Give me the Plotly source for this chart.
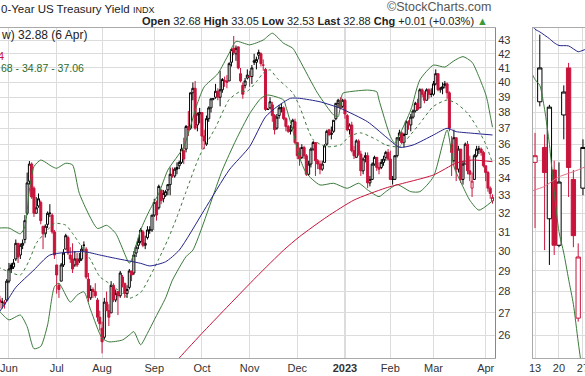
import math
import pandas as pd
import plotly.graph_objects as go

# ---------------- data: $TNX daily candles (yield x10) ----------------
HOLIDAYS = ["2022-05-30", "2022-06-20", "2022-07-04", "2022-09-05", "2022-11-24",
            "2022-12-26", "2023-01-02", "2023-01-16", "2023-02-20"]
dates = [d.strftime("%Y-%m-%d") for d in pd.bdate_range("2022-05-24", "2023-04-06")
         if d.strftime("%Y-%m-%d") not in HOLIDAYS]

opens = [
    28.5, 27.6, 27.5, 27.5, 27.6,
    28.5, 29.3, 29.2, 29.6, 30.4, 29.8, 30.3, 30.6, 32.0, 33.8,
    34.8, 33.4, 32.0, 32.4, 32.6, 31.3, 30.9, 31.4, 32.0, 31.9,
    31.0, 29.3, 28.3, 28.5, 29.3, 30.1, 30.7, 29.8, 29.6, 29.3,
    29.6, 29.5, 29.6, 30.3, 30.1, 28.6, 27.7, 28.1, 28.0, 27.6,
    26.8, 26.3, 25.9, 27.5, 27.1, 27.0, 28.3, 27.6, 28.0, 27.8,
    28.7, 28.4, 27.9, 28.2, 29.0, 28.9, 29.9, 30.3, 30.5, 31.0,
    30.3, 30.7, 31.1, 31.1, 31.9, 32.6, 32.3, 33.3, 32.8, 33.0,
    33.3, 33.6, 34.2, 34.1, 34.6, 34.7, 34.9, 35.6, 35.7, 37.1,
    37.0, 39.3, 39.6, 37.2, 37.9, 38.0, 36.5, 36.0, 37.6, 38.3,
    38.9, 39.0, 39.4, 39.0, 39.5, 40.1, 40.1, 40.1, 41.4, 42.4,
    42.0, 42.5, 40.6, 39.8, 39.8, 40.3, 40.4, 40.4, 41.4, 41.4,
    41.9, 42.0, 41.2, 40.9, 38.2, 38.3, 38.5, 37.8, 37.0, 37.8,
    38.3, 38.3, 37.6, 37.1, 36.8, 37.0, 37.4, 36.1, 35.3, 35.2,
    35.8, 35.3, 34.2, 34.8, 35.7, 36.1, 35.0, 34.8, 34.5, 34.9,
    36.0, 36.9, 36.6, 36.8, 37.6, 38.6, 38.8, 38.4, 38.8, 37.8,
    36.9, 37.2, 35.6, 35.2, 36.2, 35.4, 34.4, 35.2, 35.3, 33.7,
    33.9, 34.8, 35.2, 34.6, 34.6, 34.9, 35.2, 35.5, 35.1, 33.9,
    33.9, 35.3, 36.4, 36.7, 36.1, 36.6, 37.4, 37.2, 37.7, 38.1,
    38.6, 38.3, 39.5, 39.2, 38.8, 39.5, 39.2, 39.2, 39.9, 40.6,
    39.5, 39.6, 39.8, 39.9, 39.3, 36.0, 35.0, 36.4, 34.5, 35.7,
    33.9, 34.8, 36.0, 34.4, 33.4, 33.9, 35.3, 35.7, 35.7, 35.5,
    34.7, 34.3, 33.4, 32.68,
]
highs = [
    28.6, 27.8, 27.7, 27.6, 28.6,
    29.4, 29.4, 29.6, 30.6, 30.4, 30.4, 30.6, 31.9, 34.3, 34.98,
    34.9, 33.5, 32.9, 33.1, 32.7, 31.3, 31.4, 32.1, 32.5, 32.0,
    31.1, 29.3, 28.4, 29.4, 30.1, 30.9, 30.8, 30.2, 30.4, 30.0,
    29.9, 29.9, 30.3, 30.5, 30.2, 28.9, 28.3, 28.2, 28.4, 27.7,
    27.1, 26.6, 27.7, 28.0, 27.4, 28.5, 28.4, 28.1, 28.0, 29.0,
    28.8, 28.4, 28.3, 29.1, 29.0, 30.0, 30.3, 30.7, 31.2, 31.1,
    30.8, 31.3, 31.3, 31.9, 32.8, 32.7, 33.6, 33.3, 33.3, 33.3,
    33.6, 34.6, 34.6, 34.6, 34.9, 35.0, 36.0, 36.4, 37.2, 38.1,
    39.3, 40.0, 40.1, 38.0, 38.3, 38.0, 36.9, 37.8, 38.4, 38.9,
    38.9, 39.9, 39.6, 40.8, 40.3, 40.4, 40.5, 41.4, 42.4, 43.3,
    42.6, 42.5, 41.0, 40.0, 40.3, 40.9, 40.8, 41.2, 42.0, 41.8,
    42.3, 42.1, 41.6, 41.0, 38.3, 39.0, 38.7, 37.9, 37.9, 38.5,
    38.6, 38.4, 37.7, 37.2, 37.2, 37.6, 37.6, 36.1, 35.8, 36.0,
    35.9, 35.4, 35.0, 35.8, 36.2, 36.1, 35.1, 35.0, 35.0, 36.0,
    36.9, 36.9, 37.1, 37.5, 38.6, 38.9, 39.0, 38.9, 38.9, 37.9,
    37.3, 37.4, 35.9, 36.3, 36.3, 35.6, 35.2, 35.5, 35.5, 34.1,
    34.9, 35.3, 35.2, 34.9, 35.1, 35.3, 35.6, 35.7, 35.6, 34.1,
    35.3, 36.4, 36.9, 36.8, 36.7, 37.5, 37.5, 37.9, 38.2, 38.7,
    38.9, 39.6, 39.6, 39.4, 39.6, 39.6, 39.6, 40.1, 40.9, 40.6,
    39.7, 40.0, 40.1, 40.0, 39.4, 36.5, 36.9, 36.4, 35.9, 35.7,
    35.0, 36.1, 36.2, 35.3, 34.3, 35.4, 35.9, 35.9, 35.8, 35.6,
    34.7, 34.4, 33.5, 33.05,
]
lows = [
    27.3, 27.2, 27.2, 27.2, 27.5,
    28.4, 28.9, 29.1, 29.5, 29.4, 29.6, 30.1, 30.4, 31.9, 33.6,
    32.8, 31.8, 32.0, 32.3, 31.4, 30.1, 30.7, 31.2, 31.8, 30.9,
    29.6, 27.9, 27.7, 28.5, 29.2, 30.1, 29.8, 29.4, 28.9, 29.2,
    29.2, 29.4, 29.5, 30.0, 28.6, 27.5, 27.6, 27.7, 27.7, 26.6,
    26.2, 25.2, 25.8, 27.1, 26.4, 27.0, 27.5, 27.5, 26.9, 27.7,
    28.2, 27.7, 27.7, 28.1, 28.5, 28.8, 29.7, 30.1, 30.4, 30.2,
    30.1, 30.6, 30.9, 31.0, 31.8, 31.6, 32.2, 32.5, 32.6, 32.9,
    33.0, 33.0, 34.0, 34.0, 34.2, 34.5, 34.8, 34.8, 35.5, 36.5,
    36.9, 38.8, 36.9, 36.8, 37.3, 35.7, 35.7, 35.9, 37.4, 38.0,
    38.8, 38.9, 38.8, 38.4, 39.3, 39.7, 39.6, 40.1, 41.1, 41.9,
    41.5, 40.9, 40.0, 38.9, 39.6, 40.2, 39.7, 39.9, 41.2, 40.9,
    41.6, 41.1, 40.8, 38.1, 38.2, 38.2, 37.4, 36.6, 36.9, 37.6,
    38.0, 37.5, 36.8, 36.7, 36.6, 36.9, 36.0, 35.1, 34.7, 35.1,
    35.1, 34.1, 34.1, 34.6, 35.6, 34.1, 34.5, 34.2, 34.4, 34.9,
    35.9, 36.5, 36.3, 36.7, 37.5, 38.3, 38.2, 38.3, 37.6, 36.8,
    36.6, 35.5, 35.1, 35.2, 35.3, 34.1, 34.2, 34.9, 33.4, 33.5,
    33.9, 34.7, 34.4, 34.2, 34.5, 34.7, 35.0, 35.0, 33.9, 33.6,
    33.9, 35.2, 36.2, 36.0, 35.8, 36.6, 36.9, 36.8, 37.6, 38.0,
    38.1, 38.3, 39.0, 38.6, 38.8, 38.9, 39.0, 39.1, 39.8, 39.4,
    39.3, 39.2, 39.6, 38.9, 36.8, 34.1, 34.9, 33.8, 34.3, 33.7,
    33.6, 34.8, 34.2, 33.8, 32.9, 33.9, 35.2, 35.4, 35.3, 34.6,
    33.8, 33.2, 32.8, 32.53,
]
closes = [
    27.6, 27.5, 27.5, 27.4, 28.5,
    29.1, 29.1, 29.4, 30.4, 29.7, 30.3, 30.4, 31.6, 33.7, 34.8,
    32.9, 32.0, 32.3, 32.8, 31.6, 30.9, 31.3, 32.0, 32.0, 31.0,
    29.8, 28.8, 28.1, 29.3, 29.9, 30.8, 29.9, 29.6, 29.1, 29.6,
    29.3, 29.6, 30.1, 30.3, 28.7, 27.7, 28.1, 28.0, 27.8, 26.8,
    26.5, 25.7, 27.5, 27.1, 26.8, 28.3, 27.6, 27.9, 27.8, 28.9,
    28.4, 27.9, 28.1, 29.0, 28.8, 29.8, 30.2, 30.5, 31.1, 30.3,
    30.4, 31.1, 31.1, 31.9, 32.6, 31.9, 33.5, 32.7, 33.1, 33.2,
    33.6, 34.2, 34.1, 34.5, 34.5, 34.9, 35.7, 35.1, 37.1, 36.9,
    39.3, 39.6, 37.0, 37.9, 38.0, 36.5, 36.2, 37.6, 38.3, 38.9,
    38.9, 39.4, 39.0, 39.5, 40.2, 40.1, 40.0, 41.3, 42.3, 42.1,
    42.4, 41.0, 40.1, 39.2, 40.1, 40.5, 40.4, 41.0, 41.5, 41.6,
    42.1, 41.3, 41.2, 38.2, 38.2, 38.7, 37.8, 36.9, 37.7, 38.3,
    38.3, 37.6, 37.1, 36.8, 36.9, 37.5, 36.1, 35.3, 35.1, 35.8,
    35.3, 34.2, 34.8, 35.7, 36.1, 35.0, 34.8, 34.5, 34.8, 35.9,
    36.8, 36.6, 36.7, 37.5, 38.6, 38.8, 38.3, 38.8, 37.9, 36.9,
    37.2, 35.6, 35.3, 36.2, 35.4, 34.4, 35.1, 35.3, 33.7, 33.9,
    34.8, 35.2, 34.6, 34.5, 34.9, 35.1, 35.5, 35.1, 33.9, 33.9,
    35.3, 36.4, 36.7, 36.1, 36.6, 37.4, 37.2, 37.7, 38.1, 38.6,
    38.2, 39.5, 39.2, 38.8, 39.5, 39.2, 39.2, 39.9, 40.6, 39.5,
    39.6, 39.7, 39.9, 39.3, 37.0, 35.5, 36.4, 34.5, 35.7, 33.9,
    34.8, 36.0, 34.4, 34.2, 33.8, 35.3, 35.7, 35.7, 35.5, 34.7,
    34.3, 33.4, 33.1, 32.88,
]
assert len(dates) == len(opens) == len(highs) == len(lows) == len(closes), (len(dates), len(opens))

# overlays (key points)
ma50_dates = ["2022-05-24", "2022-06-01", "2022-06-06", "2022-06-16", "2022-06-28", "2022-07-20",
              "2022-07-29", "2022-08-09", "2022-08-24", "2022-08-30", "2022-09-09", "2022-09-19",
              "2022-10-04", "2022-10-19", "2022-11-01", "2022-11-10", "2022-11-17", "2022-11-28",
              "2022-12-02", "2022-12-15", "2022-12-29", "2023-01-18", "2023-01-30", "2023-02-07",
              "2023-02-15", "2023-03-01", "2023-03-09", "2023-03-15", "2023-03-24", "2023-04-06"]
ma50_vals = [26.93, 27.7, 28.2, 29.05, 29.8, 29.97, 29.8, 29.63, 29.38, 29.25, 29.46, 30.05,
             32.17, 34.45, 35.85, 37.72, 38.37, 38.93, 38.93, 38.70, 38.27, 37.40, 36.46, 35.81,
             35.95, 36.57, 36.99, 36.78, 36.68, 36.57]

ma200_dates = ["2022-09-06", "2022-09-19", "2022-10-04", "2022-10-19", "2022-11-04", "2022-11-22",
               "2022-12-02", "2022-12-20", "2023-01-09", "2023-01-30", "2023-03-01", "2023-03-15",
               "2023-03-24", "2023-04-06"]
ma200_vals = [24.0, 25.0, 26.18, 27.37, 28.71, 30.05, 30.75, 31.8, 32.73, 33.41, 34.16, 34.86,
              35.04, 34.94]

bb_up_dates = ["2022-05-24", "2022-06-01", "2022-06-08", "2022-06-10", "2022-06-14", "2022-06-16",
               "2022-06-22", "2022-06-29", "2022-07-01", "2022-07-08", "2022-07-13", "2022-07-18",
               "2022-07-28", "2022-08-03", "2022-08-09", "2022-08-17", "2022-08-18", "2022-08-24",
               "2022-08-30", "2022-09-06", "2022-09-12", "2022-09-21", "2022-09-29", "2022-10-04",
               "2022-10-12", "2022-10-19", "2022-10-24", "2022-11-01", "2022-11-09", "2022-11-15",
               "2022-11-22", "2022-11-29", "2022-12-02", "2022-12-14", "2022-12-23", "2022-12-28",
               "2022-12-30", "2023-01-05", "2023-01-18", "2023-01-24", "2023-01-25", "2023-02-01",
               "2023-02-03", "2023-02-07", "2023-02-14", "2023-02-21", "2023-03-01", "2023-03-08",
               "2023-03-14", "2023-03-20", "2023-03-24", "2023-03-29", "2023-04-03", "2023-04-04",
               "2023-04-05", "2023-04-06"]
bb_up_vals = [31.2, 31.2, 30.9, 31.27, 33.3, 34.65, 35.04, 34.65, 34.55, 34.85, 34.75, 33.1,
              31.18, 31.35, 30.92, 29.39, 29.55, 31.1, 32.18, 33.1, 34.45, 35.85, 38.6, 39.7,
              40.6, 42.05, 42.9, 42.65, 43.0, 43.5, 42.76, 42.4, 41.56, 39.26, 37.84, 37.73,
              39.26, 39.37, 39.48, 39.37, 38.82, 36.48, 36.05, 36.57, 38.16, 40.17, 41.2, 41.06,
              41.5, 41.8, 41.4, 40.4, 39.2, 38.6, 37.8, 37.06]

bb_mid_dates = ["2022-05-24", "2022-06-01", "2022-06-08", "2022-06-14", "2022-06-17", "2022-06-27",
                "2022-06-30", "2022-07-08", "2022-07-13", "2022-07-18", "2022-07-25", "2022-07-29",
                "2022-08-04", "2022-08-12", "2022-08-17", "2022-08-24", "2022-08-30", "2022-09-06",
                "2022-09-12", "2022-09-16", "2022-09-22", "2022-09-30", "2022-10-11", "2022-10-19",
                "2022-10-26", "2022-10-31", "2022-11-04", "2022-11-09", "2022-11-14", "2022-11-17",
                "2022-11-23", "2022-11-29", "2022-12-02", "2022-12-12", "2022-12-20", "2022-12-29",
                "2023-01-05", "2023-01-12", "2023-01-24", "2023-01-30", "2023-02-07", "2023-02-14",
                "2023-02-21", "2023-03-01", "2023-03-09", "2023-03-15", "2023-03-22", "2023-03-28",
                "2023-04-03", "2023-04-06"]
bb_mid_vals = [29.2, 28.96, 28.8, 29.55, 30.4, 31.1, 31.45, 31.36, 30.92, 30.4, 29.55, 28.72,
               28.4, 27.91, 27.68, 27.95, 28.7, 29.6, 30.6, 31.8, 33.2, 35.3, 37.04, 38.85,
               39.4, 39.4, 40.05, 40.64, 40.87, 40.3, 39.74, 39.3, 38.4, 36.27, 35.85, 35.95,
               36.49, 36.7, 36.27, 35.95, 35.85, 36.6, 37.3, 38.4, 38.82, 38.6, 37.96, 37.1,
               36.0, 34.87]

bb_lo_dates = ["2022-05-24", "2022-05-25", "2022-06-01", "2022-06-08", "2022-06-13", "2022-06-16",
               "2022-06-22", "2022-06-27", "2022-06-30", "2022-07-05", "2022-07-12", "2022-07-15",
               "2022-07-20", "2022-07-25", "2022-08-01", "2022-08-04", "2022-08-12", "2022-08-17",
               "2022-08-19", "2022-08-24", "2022-08-29", "2022-09-01", "2022-09-09", "2022-09-14",
               "2022-09-22", "2022-09-27", "2022-10-14", "2022-10-24", "2022-11-01", "2022-11-08",
               "2022-11-11", "2022-11-22", "2022-11-23", "2022-11-29", "2022-12-02", "2022-12-07",
               "2022-12-15", "2022-12-23", "2023-01-04", "2023-01-11", "2023-01-18", "2023-01-25",
               "2023-01-30", "2023-02-06", "2023-02-14", "2023-02-21", "2023-03-01", "2023-03-09",
               "2023-03-14", "2023-03-20", "2023-03-23", "2023-03-29", "2023-04-06"]
bb_lo_vals = [27.2, 27.05, 26.68, 26.9, 26.37, 25.4, 25.5, 26.45, 28.23, 28.4, 27.5, 27.83,
              27.99, 27.13, 25.86, 25.7, 25.78, 26.0, 26.15, 25.57, 26.08, 26.68, 27.7, 28.55,
              29.72, 30.05, 34.45, 36.26, 37.92, 38.93, 39.15, 38.82, 38.38, 36.88, 35.2, 34.26,
              33.58, 33.68, 33.39, 33.68, 33.3, 32.92, 33.2, 33.6, 33.2, 33.2, 34.06, 36.88,
              34.65, 33.48, 32.72, 32.17, 32.68]

for ds in (ma50_dates, ma200_dates, bb_up_dates, bb_mid_dates, bb_lo_dates):
    assert all(d in dates for d in ds), [d for d in ds if d not in dates]

month_ticks = ["2022-06-01", "2022-07-01", "2022-08-01", "2022-09-01", "2022-10-03", "2022-11-01",
               "2022-12-01", "2023-01-03", "2023-02-01", "2023-03-01", "2023-04-03"]
month_labels = ["Jun", "Jul", "Aug", "Sep", "Oct", "Nov", "Dec", "<b>2023</b>", "Feb", "Mar", "Apr"]
y_ticks = list(range(26, 44))

# right-hand inset (recent sessions), values read against the same grid
panel_cats = ["Mar 10", "Mar 13", "Mar 14", "Mar 15", "Mar 16", "Mar 17", "Mar 20", "Mar 21",
              "Mar 22", "Mar 23", "Mar 24", "Mar 27", "Mar 28"]
panel_days = ["Mar 13", "Mar 14", "Mar 15", "Mar 16", "Mar 17", "Mar 20", "Mar 21", "Mar 22",
              "Mar 23", "Mar 24", "Mar 27"]
panel_open = [34.9, 38.7, 35.8, 31.7, 34.45, 30.3, 37.84, 41.0, 33.9, 26.76, 33.4]
panel_high = [36.7, 43.4, 36.6, 38.5, 35.0, 34.9, 39.8, 41.35, 34.45, 30.4, 36.3]
panel_low = [31.2, 38.4, 30.05, 29.3, 29.8, 30.2, 36.3, 32.9, 30.2, 26.6, 33.0]
panel_close = [35.3, 41.0, 34.3, 38.35, 30.3, 33.75, 39.35, 34.6, 30.8, 29.7, 35.8]
panel_blue_x = ["Mar 10", "Mar 13", "Mar 14", "Mar 16", "Mar 17", "Mar 20", "Mar 22", "Mar 24",
                "Mar 27", "Mar 28"]
panel_blue_v = [44.3, 43.8, 43.6, 43.1, 42.8, 42.6, 42.57, 42.15, 42.25, 42.4]
panel_green_x = ["Mar 10", "Mar 13", "Mar 14", "Mar 15", "Mar 16", "Mar 17", "Mar 20", "Mar 21",
                 "Mar 22", "Mar 23", "Mar 24", "Mar 27"]
panel_green_v = [40.9, 40.2, 39.8, 38.2, 36.0, 33.2, 31.0, 29.9, 28.6, 27.4, 25.7, 24.2]
panel_pink_x = ["Mar 10", "Mar 13", "Mar 15", "Mar 20", "Mar 23", "Mar 28"]
panel_pink_v = [33.2, 33.3, 33.5, 34.05, 34.35, 34.7]

# ---------------- styling ----------------
FONT = "Liberation Sans, Arial, sans-serif"
BLACK = "#000000"
RED = "#c8143c"
GREEN = "#3b7a3b"
NAVY = "#23238a"
GRID = "#dcdcdc"
W, H = 585, 376
TOP, BOT = 28, 358

fig = go.Figure()


def add_candles(x, o, h, l, c, xa, ya, first_down=False):
    up, dn = [], []
    for k in range(len(c)):
        down = (c[k] < c[k - 1]) if k > 0 else first_down
        (dn if down else up).append(k)
    for idx, col, inc_fill, dec_fill in ((up, BLACK, "white", BLACK), (dn, RED, "white", RED)):
        fig.add_trace(go.Candlestick(
            x=[x[k] for k in idx], open=[o[k] for k in idx], high=[h[k] for k in idx],
            low=[l[k] for k in idx], close=[c[k] for k in idx],
            increasing=dict(line=dict(color=col, width=1), fillcolor=inc_fill),
            decreasing=dict(line=dict(color=col, width=1), fillcolor=dec_fill),
            whiskerwidth=0, showlegend=False, hoverinfo="skip", xaxis=xa, yaxis=ya))


def add_line(x, y, color, xa="x", ya="y", dash="solid", width=1):
    fig.add_trace(go.Scatter(x=x, y=y, mode="lines", xaxis=xa, yaxis=ya, hoverinfo="skip",
                             line=dict(color=color, width=width, dash=dash, shape="spline",
                                       smoothing=0.6),
                             showlegend=False))


add_candles(dates, opens, highs, lows, closes, "x", "y")
add_line(bb_up_dates, bb_up_vals, GREEN)
add_line(bb_lo_dates, bb_lo_vals, GREEN)
add_line(bb_mid_dates, bb_mid_vals, GREEN, dash="dot")
add_line(ma50_dates, ma50_vals, NAVY)
add_line(ma200_dates, ma200_vals, RED)

add_candles(panel_days, panel_open, panel_high, panel_low, panel_close, "x2", "y2", first_down=True)
add_line(panel_blue_x, panel_blue_v, NAVY, "x2", "y2")
add_line(panel_green_x, panel_green_v, GREEN, "x2", "y2")
add_line(panel_pink_x, panel_pink_v, "#e0708a", "x2", "y2")

yr = [math.log10(25.0), math.log10(43.89)]
first_cat = 5 - 3.96
fig.update_layout(
    width=W, height=H, margin=dict(l=0, r=0, t=TOP, b=H - BOT),
    paper_bgcolor="white", plot_bgcolor="white",
    font=dict(family=FONT, size=11, color="#222"),
    showlegend=False, boxgap=0.1, boxgroupgap=0,
    xaxis=dict(domain=[0, 495 / W], type="category", categoryorder="array", categoryarray=dates,
               range=[first_cat, first_cat + 218.06], tickvals=month_ticks, ticktext=month_labels,
               showgrid=True, gridcolor=GRID, showline=True, mirror=True, linecolor="#aaaaaa",
               ticks="", ticklen=0, automargin=False, rangeslider=dict(visible=False),
               tickfont=dict(size=11, color="#333")),
    yaxis=dict(domain=[0, 1], type="log", range=yr, side="right", anchor="x",
               tickvals=y_ticks, ticktext=[str(v) for v in y_ticks], showgrid=True,
               gridcolor=GRID, showline=True, linecolor="#888888", ticks="", ticklen=0,
               automargin=False, zeroline=False, tickfont=dict(size=11, color="#333")),
    xaxis2=dict(domain=[533 / W, 1], anchor="y2", type="category", categoryorder="array",
                categoryarray=panel_cats, range=[0.583, 11.42],
                tickvals=["Mar 13", "Mar 20", "Mar 27"], ticktext=["13", "20", "27"],
                showgrid=True, gridcolor=GRID, showline=True, mirror=True, linecolor="#aaaaaa",
                ticks="", ticklen=0, automargin=False, rangeslider=dict(visible=False),
                tickfont=dict(size=11, color="#333")),
    yaxis2=dict(domain=[0, 1], anchor="x2", type="log", range=yr, side="left",
                tickvals=y_ticks, showticklabels=False, showgrid=True, gridcolor=GRID,
                showline=True, linecolor="#aaaaaa", ticks="", ticklen=0, automargin=False,
                zeroline=False),
)

# darker year-boundary gridline
fig.add_shape(type="line", xref="x", yref="paper", x0="2023-01-03", x1="2023-01-03", y0=0, y1=1,
              line=dict(color="#b0b0b0", width=1), layer="below")


def px(xp):
    return xp / W


def py(yp):
    return (BOT - yp) / (BOT - TOP)


def note(text, x, y, size=11, color="#222", anchor="left"):
    fig.add_annotation(text=text, x=px(x), y=py(y), xref="paper", yref="paper",
                       xanchor=anchor, yanchor="middle", showarrow=False, borderpad=0,
                       font=dict(family=FONT, size=size, color=color))


note("0-Year US Treasury Yield <span style='font-size:9px'>INDX</span>", 0, 9, size=11.5)
note("\u00a9StockCharts.com", 492, 7, size=12.5, color="#555", anchor="right")
hdr = (f"<b>Open</b> {opens[-1]:.2f} <b>High</b> {highs[-1]:.2f} <b>Low</b> {lows[-1]:.2f}"
       f" <b>Last</b> {closes[-1]:.2f} <b>Chg</b> +0.01 (+0.03%) "
       f"<span style='color:#3a9a3a'>\u25b2</span>")
note(hdr, 489, 21.5, size=11, anchor="right")
note(f"w) {closes[-1]:.2f} (6 Apr)", 0, 35.5, size=12)
note("4", -3, 56, size=11, color=RED)
note(f"68 - {bb_mid_vals[-1]:.2f} - {bb_up_vals[-1]:.2f}", 0, 68, size=10.5, color="#2d6b2d")

fig.write_html("out.html", config={"displayModeBar": False},
               post_script="document.body.style.margin='0';")
